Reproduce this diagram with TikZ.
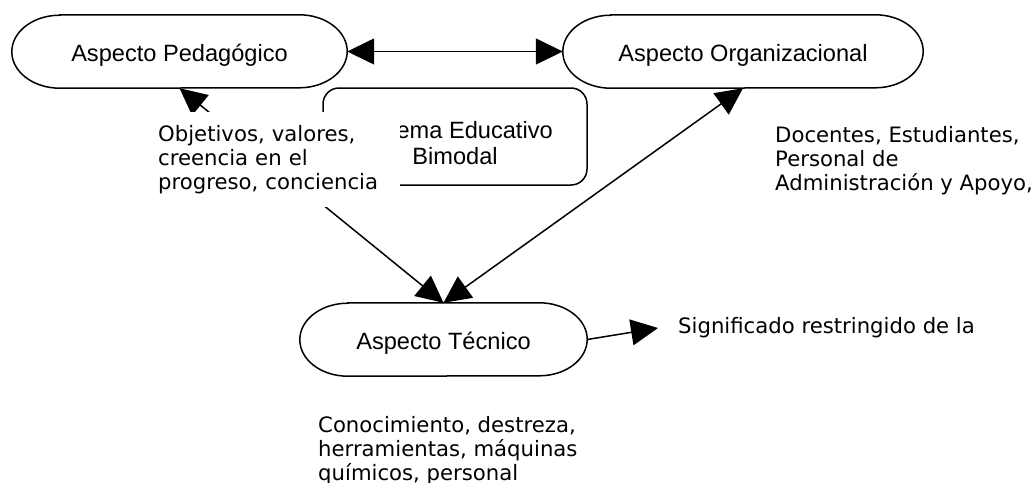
\documentclass[tikz,border=0pt]{standalone}
\usepackage{fontspec}
\setmainfont{Liberation Sans}
\newfontfamily\dvfont{DejaVu Sans}
\usetikzlibrary{arrows.meta}
\tikzset{
  shapeline/.style={line width=1.5pt},
  terminal/.style={minimum width=#1, minimum height=73pt, inner sep=0pt,
    text height=22pt, text depth=3pt, font=\fontsize{23.6pt}{26pt}\selectfont},
  sysbox/.style={draw, line width=1.5pt, rounded corners=16pt, minimum width=264pt,
    minimum height=97pt, align=center, inner sep=0pt,
    font=\fontsize{23.6pt}{26pt}\selectfont},
  note/.style={inner sep=0pt, align=left, font=\dvfont\fontsize{21.2pt}{24pt}\selectfont},
  dblarr/.style={{Triangle[length=27pt,width=26pt]}-{Triangle[length=27pt,width=26pt]}, line width=1.5pt},
  sarr/.style={-{Triangle[length=27pt,width=26pt]}, line width=1.5pt}
}
\newcommand\stadiumof[1]{%
  \draw[shapeline] ([xshift=48pt]#1.north west) -- ([xshift=-48pt]#1.north east)
    arc[start angle=90,end angle=-90,x radius=48pt,y radius=36.5pt]
    -- ([xshift=48pt]#1.south west)
    arc[start angle=270,end angle=90,x radius=48pt,y radius=36.5pt] -- cycle;}
\begin{document}
\begin{tikzpicture}[x=1pt,y=-1pt]
\fill[white] (0,0) rectangle (1035,482);
\useasboundingbox (0,0) rectangle (1035,482);

\node[terminal=335pt] (P) at (179.5,51.5) {Aspecto Pedagógico};
\node[terminal=360pt] (O) at (743,51.5) {Aspecto Organizacional};
\node[terminal=287pt] (T) at (443.5,339.5) {Aspecto Técnico};
\stadiumof{P}
\stadiumof{O}
\stadiumof{T}

\node[sysbox] (SE) at (455,136.5) {\rule{0pt}{31pt}Sistema Educativo\\Bimodal};

\draw[dblarr] (P.east) -- (O.west);
\draw[dblarr] (P.south) -- (T.north);
\draw[dblarr] (O.south) -- (T.north);

\node[note, anchor=north west, fill=white, inner xsep=8pt, inner ysep=13pt, text width=234pt]
  (V) at (150,112) {Objetivos, valores,\\creencia en el\\progreso, conciencia};

\node[note, anchor=north west] (D) at (775,126) {Docentes, Estudiantes,\\Personal de\\Administración y Apoyo,};
\node[note, anchor=north west] (C) at (318,416) {Conocimiento, destreza,\\herramientas, máquinas\\químicos, personal};
\node[note, anchor=base west] (S) at (678,333) {Significado restringido de la};
\coordinate (sa) at (658,328);
\draw[sarr] (T.east) -- (sa);
\end{tikzpicture}
\end{document}
